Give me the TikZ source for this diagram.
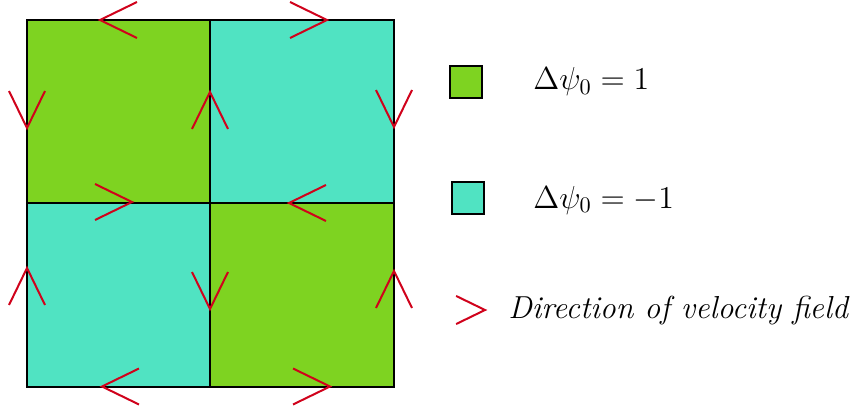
\RequirePackage{fix-cm}
\documentclass[tikz,border=0pt]{standalone}
\usepackage{amsmath,amssymb}
\usepackage{xcolor}
\usepackage{tikz}
\usetikzlibrary{positioning}

\definecolor{psipos}{RGB}{126,211,33}
\definecolor{psineg}{RGB}{80,227,194}
\definecolor{velred}{RGB}{208,2,27}

\tikzset{
  vel/.pic={\draw[velred, line width=1pt] (-37,-18) -- (0,0) -- (-37,18);},
  key/.style={draw, line width=1pt, minimum size=16pt, inner sep=0pt},
}

\begin{document}
\begin{tikzpicture}[x=0.5pt,y=-0.5pt, font=\fontsize{15.9}{18}\selectfont]
  \useasboundingbox (0,0) rectangle (852,407);

  % cells
  \fill[psipos] (27,20) rectangle (210,203);
  \fill[psineg] (210,20) rectangle (394,203);
  \fill[psineg] (27,203) rectangle (210,386.5);
  \fill[psipos] (210,203) rectangle (394,386.5);
  \draw[line width=1pt] (27,20) rectangle (394,386.5);
  \draw[line width=1pt] (210,20) -- (210,386.5);
  \draw[line width=1pt] (27,203) -- (394,203);

  % velocity field
  \pic[rotate=180] at (100,20) {vel};
  \pic at (327,20) {vel};
  \pic[rotate=-90] at (27,128) {vel};
  \pic[rotate=90] at (210,92) {vel};
  \pic[rotate=-90] at (394,127) {vel};
  \pic at (132,202) {vel};
  \pic[rotate=180] at (289,203) {vel};
  \pic[rotate=90] at (27,268) {vel};
  \pic[rotate=-90] at (210,309) {vel};
  \pic[rotate=90] at (394,271) {vel};
  \pic[rotate=180] at (102,386.5) {vel};
  \pic at (330,386.5) {vel};

  % legend
  \node[key, fill=psipos] (kp) at (465.5,82) {};
  \node[key, fill=psineg] (kn) at (467.5,197.5) {};
  \node[anchor=base west, inner sep=0pt] (tp) at (533,90) {$\Delta\psi_0 = 1$};
  \node[anchor=base west, inner sep=0pt] (tn) at (533,208) {$\Delta\psi_0 = -1$};
  \pic[scale=0.78] at (485,310) {vel};
  \node[anchor=base west, inner sep=0pt] (tv) at (508,318) {\itshape Direction of velocity field};
\end{tikzpicture}
\end{document}
